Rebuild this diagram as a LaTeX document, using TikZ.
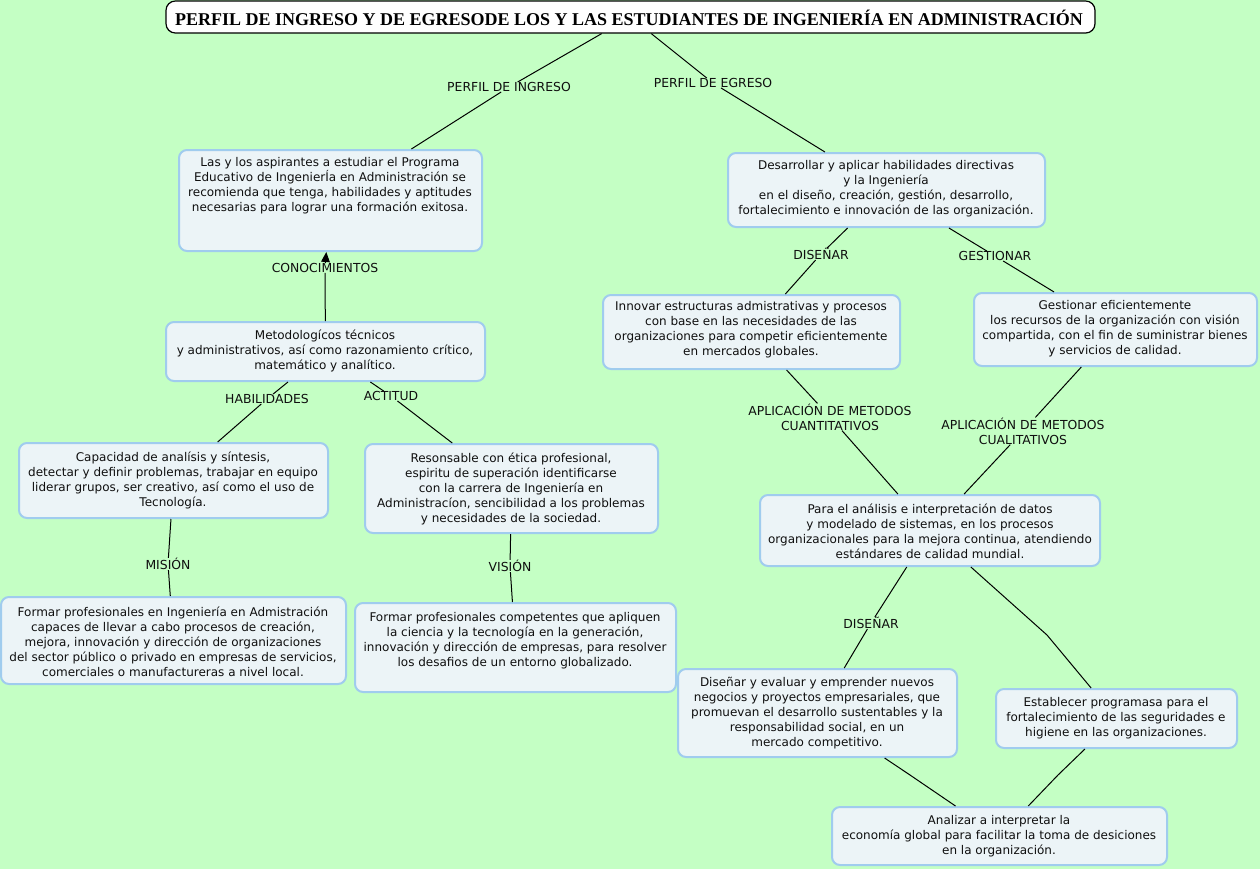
\documentclass[tikz,border=0pt]{standalone}
\usepackage{fontspec}
\setmainfont{DejaVu Sans}
\newfontfamily\titlefont{Liberation Serif}
\usetikzlibrary{arrows.meta}
\definecolor{bggreen}{RGB}{196,255,196}
\definecolor{boxfill}{RGB}{236,244,247}
\definecolor{boxline}{RGB}{160,204,238}
\definecolor{txtc}{RGB}{15,15,15}
\newcommand{\boxat}[5]{\node[cbox, minimum width={#4*0.75pt}, minimum height={#5*0.75pt}] (#1) at (#2,#3) {};}
\begin{document}
\begin{tikzpicture}[x=0.75pt,y=-0.75pt,
 cbox/.style={draw=boxline, fill=boxfill, line width=1.5pt, rounded corners=6pt, inner sep=0pt},
 txt/.style={align=center, inner sep=0pt, font=\fontsize{9}{11.25}\selectfont, text=txtc},
 lab/.style={inner sep=0pt, font=\fontsize{9.3}{11.25}\selectfont, text=txtc, align=center},
 conn/.style={draw=black, line width=0.75pt}]
\fill[bggreen] (0,0) rectangle (1260,869);
\useasboundingbox (0,0) rectangle (1260,869);

% title
\node[draw=black, fill=white, rounded corners=7pt, line width=0.9pt, minimum width={929*0.75pt}, minimum height={32*0.75pt}, inner sep=0pt] (title) at (630.5,17) {};
\node[inner sep=0pt, font=\titlefont\bfseries\fontsize{13.5}{15}\selectfont] (titletext) at (629,17.5) {PERFIL DE INGRESO Y DE EGRESODE LOS Y LAS ESTUDIANTES DE INGENIERÍA EN ADMINISTRACIÓN};

% boxes
\boxat{n1}{330.5}{200.5}{303}{101}
\boxat{n2}{325.5}{351.5}{319}{59}
\boxat{n3}{173.5}{480.5}{309}{75}
\boxat{n4}{511.5}{488.5}{293}{89}
\boxat{n5}{173.5}{640.5}{345}{87}
\boxat{n6}{515.5}{647.5}{321}{89}
\boxat{n7}{886.5}{190}{317}{74}
\boxat{n8}{751.5}{332}{297}{74}
\boxat{n9}{1115.5}{329.5}{283}{73}
\boxat{n10}{930}{530.5}{340}{71}
\boxat{n11}{817.5}{713}{279}{88}
\boxat{n12}{1116.5}{718.5}{241}{59}
\boxat{n13}{999.5}{836}{335}{58}

% texts
\node[txt] (t1) at (330,185.5) {Las y los aspirantes a estudiar el Programa\\ Educativo de IngenierÍa en Administración se\\recomienda que tenga, habilidades y aptitudes\\necesarias para lograr una formación exitosa.};
\node[txt] (t2) at (325,351) {Metodologícos técnicos\\y administrativos, así como razonamiento crítico,\\matemático y analítico.};
\node[txt] (t3) at (173,480.5) {Capacidad de analísis y síntesis,\\detectar y definir problemas, trabajar en equipo\\liderar grupos, ser creativo, así como el uso de\\Tecnología.};
\node[txt] (t4) at (511,488.5) {Resonsable con ética profesional,\\espiritu de superación identificarse\\con la carrera de Ingeniería en\\Administracíon, sencibilidad a los problemas\\y necesidades de la sociedad.};
\node[txt] (t5) at (173,641.5) {Formar profesionales en Ingeniería en Admistración\\capaces de llevar a cabo procesos de creación,\\mejora, innovación y dirección de organizaciones\\del sector público o privado en empresas de servicios,\\comerciales o manufactureras a nivel local.};
\node[txt] (t6) at (515,640.5) {Formar profesionales competentes que apliquen\\la ciencia y la tecnología en la generación,\\innovación y dirección de empresas, para resolver\\los desafios de un entorno globalizado.};
\node[txt] (t7) at (886,189) {Desarrollar y aplicar habilidades directivas\\y la Ingeniería\\en el diseño, creación, gestión, desarrollo,\\fortalecimiento e innovación de las organización.};
\node[txt] (t8) at (751,330) {Innovar estructuras admistrativas y procesos\\con base en las necesidades de las\\organizaciones para competir eficientemente\\en mercados globales.};
\node[txt] (t9) at (1115,328.5) {Gestionar eficientemente\\los recursos de la organización con visión\\compartida, con el fin de suministrar bienes\\y servicios de calidad.};
\node[txt] (t10) at (930,531) {Para el análisis e interpretación de datos\\y modelado de sistemas, en los procesos\\organizacionales para la mejora continua, atendiendo\\estándares de calidad mundial.};
\node[txt] (t11) at (817,713.5) {Diseñar y evaluar y emprender nuevos\\negocios y proyectos empresariales, que\\promuevan el desarrollo sustentables y la\\responsabilidad social, en un\\mercado competitivo.};
\node[txt] (t12) at (1116,718.5) {Establecer programasa para el\\fortalecimiento de las seguridades e\\higiene en las organizaciones.};
\node[txt] (t13) at (999,836) {Analizar a interpretar la\\economía global para facilitar la toma de desiciones\\en la organización.};

% labels
\node[lab] (lpi) at (509,87) {PERFIL DE INGRESO};
\node[lab] (lpe) at (713,83) {PERFIL DE EGRESO};
\node[lab] (lcon) at (325,268) {CONOCIMIENTOS};
\node[lab] (lhab) at (267,399) {HABILIDADES};
\node[lab] (lact) at (391,396) {ACTITUD};
\node[lab] (lmis) at (168,564) {MISIÓN};
\node[lab] (lvis) at (510,566) {VISIÓN};
\node[lab] (ld1) at (821,254) {DISEÑAR};
\node[lab] (lges) at (995,256) {GESTIONAR};
\node[lab] (lcuan) at (830,417) {APLICACIÓN DE METODOS\\CUANTITATIVOS};
\node[lab] (lcual) at (1023,431) {APLICACIÓN DE METODOS\\CUALITATIVOS};
\node[lab] (ld2) at (871,623) {DISEÑAR};
\coordinate (e1) at (1047,635);
\coordinate (e2) at (910,775);
\coordinate (e3) at (1058,775);

% connectors
\draw[conn] (title) -- (lpi);
\draw[conn] (lpi) -- (n1);
\draw[conn] (title) -- (lpe);
\draw[conn] (lpe) -- (n7);
\draw[conn] (n2) -- (lcon);
\draw[conn, -{Triangle[length=7.5pt,width=6.5pt]}] (lcon) -- (n1);
\draw[conn] (n2) -- (lhab);
\draw[conn] (lhab) -- (n3);
\draw[conn] (n2) -- (lact);
\draw[conn] (lact) -- (n4);
\draw[conn] (n3) -- (lmis);
\draw[conn] (lmis) -- (n5);
\draw[conn] (n4) -- (lvis);
\draw[conn] (lvis) -- (n6);
\draw[conn] (n7) -- (ld1);
\draw[conn] (ld1) -- (n8);
\draw[conn] (n7) -- (lges);
\draw[conn] (lges) -- (n9);
\draw[conn] (n8) -- (lcuan);
\draw[conn] (lcuan) -- (n10);
\draw[conn] (n9) -- (lcual);
\draw[conn] (lcual) -- (n10);
\draw[conn] (n10) -- (ld2);
\draw[conn] (ld2) -- (n11);
\draw[conn] (n10) -- (e1) -- (n12);
\draw[conn] (n11) -- (e2) -- (n13);
\draw[conn] (n12) -- (e3) -- (n13);
\end{tikzpicture}
\end{document}
